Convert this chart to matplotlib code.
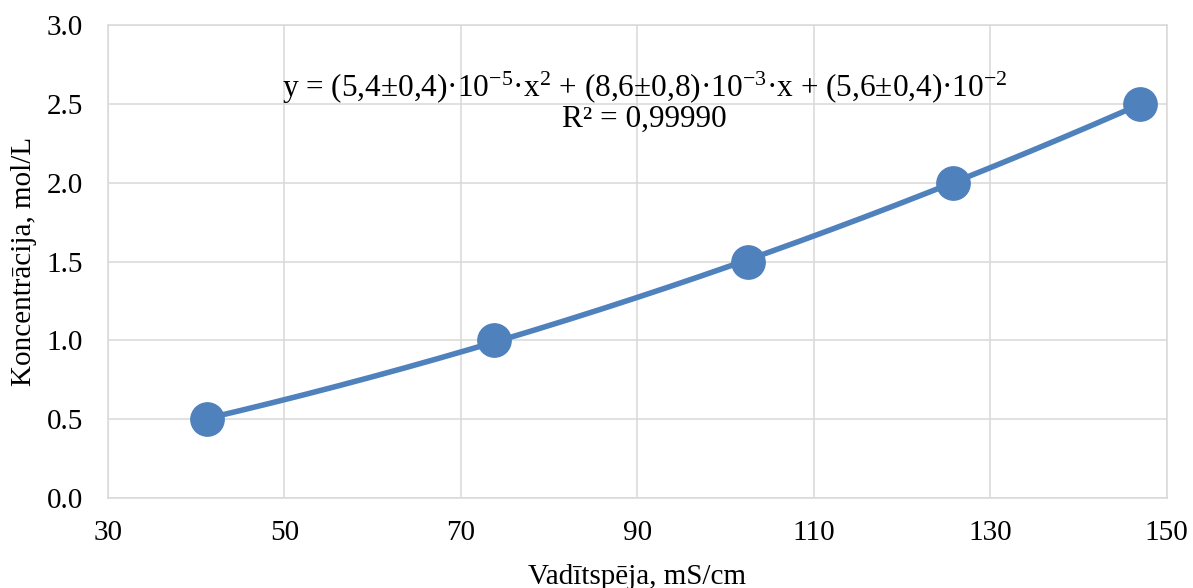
import numpy as np
import matplotlib
matplotlib.use("Agg")
import matplotlib.pyplot as plt

# =========================
# DATA
# =========================

conductivity = [41.2, 73.7, 102.5, 125.8, 147.0]   # mS/cm
concentration = [0.5, 1.0, 1.5, 2.0, 2.5]          # mol/L

x_ticks = [30, 50, 70, 90, 110, 130, 150]
y_ticks = [0.0, 0.5, 1.0, 1.5, 2.0, 2.5, 3.0]

equation = (r"y = (5,4±0,4)·10$^{-5}$·x$^{2}$ + (8,6±0,8)·10$^{-3}$·x"
            r" + (5,6±0,4)·10$^{-2}$")
r_squared = "R² = 0,99990"

# =========================
# STYLE
# =========================

plt.rcParams["font.family"] = ["Liberation Serif", "DejaVu Serif"]
plt.rcParams["mathtext.fontset"] = "custom"
plt.rcParams["mathtext.rm"] = "Liberation Serif"
plt.rcParams["mathtext.it"] = "Liberation Serif"

BLUE = "#4F81BD"
GRID = "#D9D9D9"
FS = 21

# =========================
# PLOT
# =========================

fig = plt.figure(figsize=(11.93, 5.88), dpi=100)
ax = fig.add_axes([0.0905, 0.153, 0.8875, 0.8045])

# quadratic trendline through the points
coef = np.polyfit(conductivity, concentration, 2)
xs = np.linspace(min(conductivity), max(conductivity), 200)
ax.plot(xs, np.polyval(coef, xs), color=BLUE, lw=4, zorder=3,
        solid_capstyle="round")

ax.plot(conductivity, concentration, "o", color=BLUE, ms=24, zorder=4)

ax.set_xlim(30, 150)
ax.set_ylim(0, 3.0)
ax.set_xticks(x_ticks)
ax.set_yticks(y_ticks)
ax.set_yticklabels([f"{v:.1f}" for v in y_ticks])
ax.tick_params(length=0, labelsize=FS)
ax.tick_params(axis="y", pad=18)
ax.tick_params(axis="x", pad=16)

ax.grid(True, color=GRID, lw=1.1)
ax.set_axisbelow(True)
for s in ax.spines.values():
    s.set_color(GRID)
    s.set_linewidth(1.1)

ax.set_xlabel("Vadītspēja, mS/cm", fontsize=FS, labelpad=13)
ax.set_ylabel("Koncentrācija, mol/L", fontsize=FS)
ax.yaxis.set_label_coords(-0.067, 0.5)

ax.text(90.8, 2.60, equation, fontsize=22.5, ha="center", va="center")
ax.text(90.8, 2.40, r_squared, fontsize=22.5, ha="center", va="center")

fig.savefig("out.png", dpi=100)
